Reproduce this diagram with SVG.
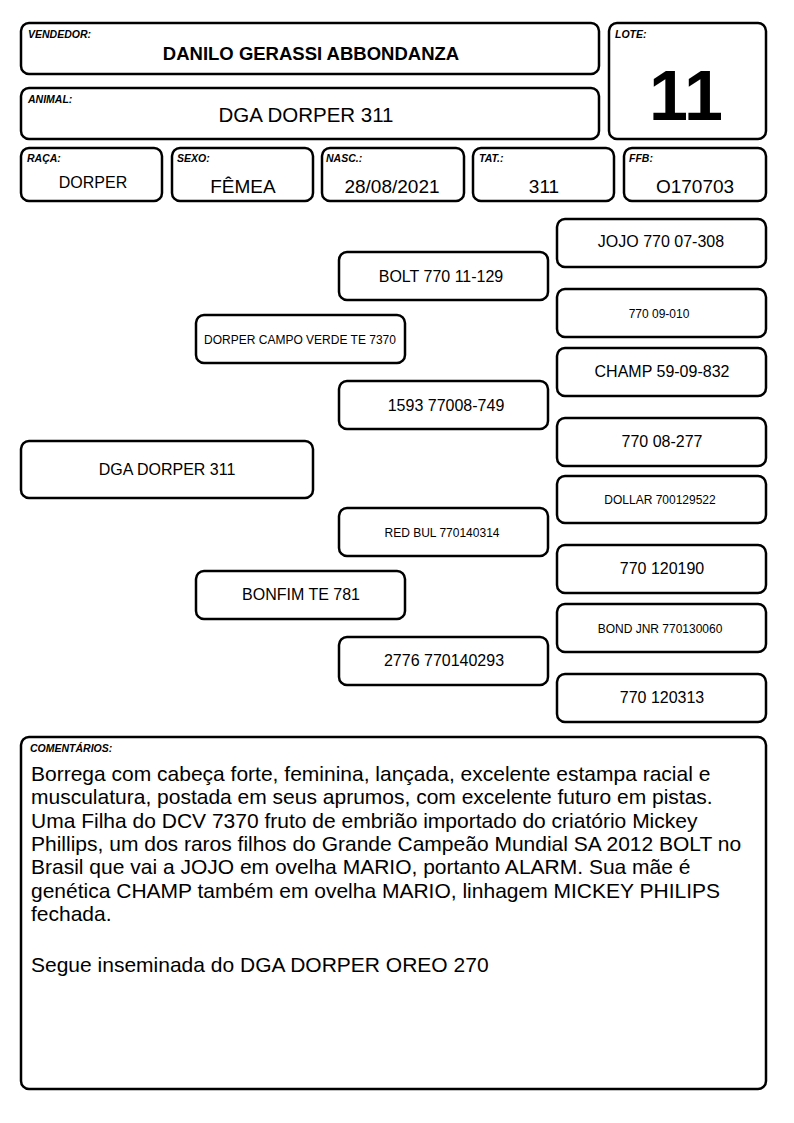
<svg xmlns="http://www.w3.org/2000/svg" width="794" height="1123" viewBox="0 0 794 1123">
<style>
.b{fill:#fff;stroke:#000;stroke-width:2.5}
.lb{font-family:"Liberation Sans",Arial,sans-serif;font-size:10.5px;font-weight:bold;font-style:italic;fill:#000}
.t{font-family:"Liberation Sans",Arial,sans-serif;fill:#000;text-anchor:middle}
.m{font-size:16px}
.s{font-size:12px}
.c{font-family:"Liberation Sans",Arial,sans-serif;font-size:21px;fill:#000}
</style>
<rect width="794" height="1123" fill="#fff"/>
<g id="vendedor"><rect class="b" x="21" y="23" width="578" height="51" rx="8"/><text class="lb" x="28" y="38">VENDEDOR:</text><text class="t" x="311" y="60" font-size="18.5" font-weight="bold">DANILO GERASSI ABBONDANZA</text></g>
<g id="animal"><rect class="b" x="21" y="88" width="578" height="51" rx="8"/><text class="lb" x="28" y="103">ANIMAL:</text><text class="t" x="306" y="122" font-size="20.5">DGA DORPER 311</text></g>
<g id="lote"><rect class="b" x="609" y="23" width="157" height="116" rx="8"/><text class="lb" x="615" y="38">LOTE:</text><text class="t" x="686" y="120" font-size="70" font-weight="bold">11</text></g>
<g id="raca"><rect class="b" x="21" y="148" width="141" height="53" rx="8"/><text class="lb" x="27" y="162">RAÇA:</text><text class="t" x="93" y="188" font-size="16">DORPER</text></g>
<g id="sexo"><rect class="b" x="172" y="148" width="141" height="53" rx="8"/><text class="lb" x="177" y="162">SEXO:</text><text class="t" x="243" y="193" font-size="19">FÊMEA</text></g>
<g id="nasc"><rect class="b" x="322" y="148" width="142" height="53" rx="8"/><text class="lb" x="326" y="162">NASC.:</text><text class="t" x="392" y="193" font-size="19">28/08/2021</text></g>
<g id="tat"><rect class="b" x="473" y="148" width="141" height="53" rx="8"/><text class="lb" x="479" y="162">TAT.:</text><text class="t" x="544" y="193" font-size="19">311</text></g>
<g id="ffb"><rect class="b" x="624" y="148" width="142" height="53" rx="8"/><text class="lb" x="629" y="162">FFB:</text><text class="t" x="695" y="193" font-size="19">O170703</text></g>
<g id="p-jojo"><rect class="b" x="557" y="219" width="209" height="48" rx="8"/><text class="t m" x="661" y="247">JOJO 770 07-308</text></g>
<g id="p-77009010"><rect class="b" x="557" y="289" width="209" height="48" rx="8"/><text class="t s" x="659" y="318">770 09-010</text></g>
<g id="p-champ"><rect class="b" x="557" y="348" width="209" height="48" rx="8"/><text class="t m" x="662" y="377">CHAMP 59-09-832</text></g>
<g id="p-77008277"><rect class="b" x="557" y="418" width="209" height="48" rx="8"/><text class="t m" x="662" y="447">770 08-277</text></g>
<g id="p-dollar"><rect class="b" x="557" y="476" width="209" height="47" rx="8"/><text class="t s" x="660" y="504">DOLLAR 700129522</text></g>
<g id="p-770120190"><rect class="b" x="557" y="545" width="209" height="48" rx="8"/><text class="t m" x="662" y="574">770 120190</text></g>
<g id="p-bond"><rect class="b" x="557" y="604" width="209" height="48" rx="8"/><text class="t s" x="660" y="633">BOND JNR 770130060</text></g>
<g id="p-770120313"><rect class="b" x="557" y="674" width="209" height="48" rx="8"/><text class="t m" x="662" y="703">770 120313</text></g>
<g id="p-bolt"><rect class="b" x="339" y="252" width="209" height="48" rx="8"/><text class="t m" x="441" y="282">BOLT 770 11-129</text></g>
<g id="p-1593"><rect class="b" x="339" y="381" width="209" height="48" rx="8"/><text class="t m" x="446" y="411">1593 77008-749</text></g>
<g id="p-redbul"><rect class="b" x="339" y="508" width="209" height="48" rx="8"/><text class="t s" x="442" y="537">RED BUL 770140314</text></g>
<g id="p-2776"><rect class="b" x="339" y="637" width="209" height="48" rx="8"/><text class="t m" x="444" y="666">2776 770140293</text></g>
<g id="p-dcv"><rect class="b" x="196" y="315" width="209" height="48" rx="8"/><text class="t s" x="300" y="344">DORPER CAMPO VERDE TE 7370</text></g>
<g id="p-bonfim"><rect class="b" x="196" y="571" width="209" height="48" rx="8"/><text class="t m" x="301" y="600">BONFIM TE 781</text></g>
<g id="p-animal"><rect class="b" x="21" y="441" width="292" height="57" rx="8"/><text class="t m" x="167" y="475">DGA DORPER 311</text></g>
<g id="connectors"></g>
<g id="comentarios"><rect class="b" x="21" y="737" width="745" height="352" rx="8"/><text class="lb" x="30" y="752">COMENTÁRIOS:</text>
<text class="c"><tspan x="31" y="781">Borrega com cabeça forte, feminina, lançada, excelente estampa racial e</tspan><tspan x="31" y="804">musculatura, postada em seus aprumos, com excelente futuro em pistas.</tspan><tspan x="31" y="828">Uma Filha do DCV 7370 fruto de embrião importado do criatório Mickey</tspan><tspan x="31" y="851">Phillips, um dos raros filhos do Grande Campeão Mundial SA 2012 BOLT no</tspan><tspan x="31" y="874">Brasil que vai a JOJO em ovelha MARIO, portanto ALARM. Sua mãe é</tspan><tspan x="31" y="898">genética CHAMP também em ovelha MARIO, linhagem MICKEY PHILIPS</tspan><tspan x="31" y="921">fechada.</tspan><tspan x="31" y="972">Segue inseminada do DGA DORPER OREO 270</tspan></text></g>
</svg>
